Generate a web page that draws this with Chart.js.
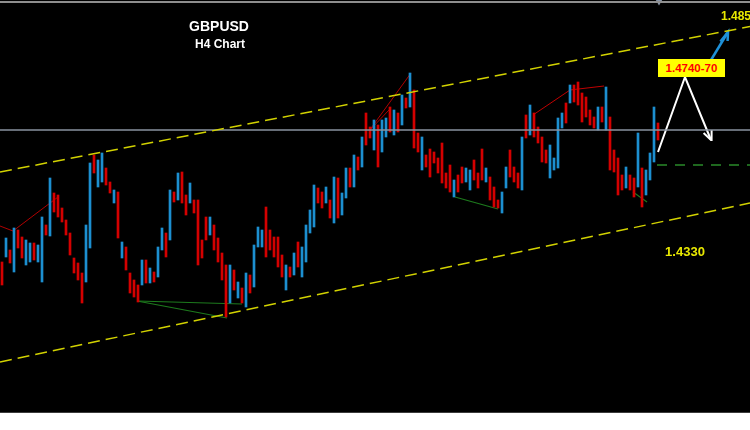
<!DOCTYPE html>
<html>
<head>
<meta charset="utf-8">
<title>GBPUSD H4</title>
<script src="https://cdn.jsdelivr.net/npm/chart.js@4.4.0/dist/chart.umd.min.js"></script>
<style>
  body { margin: 0; background: #fff; }
  #wrap { position: relative; width: 750px; height: 412px; background: #000; border-bottom: 1px solid #3c3c3c; overflow: hidden; }
  #wrap canvas { position: absolute; left: 0; top: 0; }
  #topline { position: absolute; left: 0; top: 1px; width: 750px; height: 2px; background: #8e8e8e; }
  .lbl { position: absolute; font-family: "Liberation Sans", Arial, sans-serif; font-weight: bold; white-space: nowrap; transform: translate(-50%, -50%); }
  #box { position: absolute; left: 658px; top: 59px; width: 67px; height: 18px; background: #ffff00; color: #ff0000;
         font: bold 11.5px "Liberation Sans", Arial, sans-serif; line-height: 18px; text-align: center; }
</style>
</head>
<body>
<div id="wrap">
  <canvas id="fxChart" width="750" height="412"></canvas>
  <div id="topline"></div>
  <div class="lbl" style="left:219px; top:26px; color:#fff; font-size:14px;">GBPUSD</div>
  <div class="lbl" style="left:220px; top:44px; color:#fff; font-size:12px;">H4 Chart</div>
  <div class="lbl" style="left:721px; top:16px; color:#e8e800; font-size:12px; transform: translate(0, -50%);">1.4850</div>
  <div class="lbl" style="left:685px; top:251px; color:#e8e800; font-size:13px;">1.4330</div>
  <div id="box">1.4740-70</div>
</div>
<script>
// H4 candles: high, low, direction (1 = up / blue, 0 = down / red)
var highs = [
  1.4376, 1.4424, 1.4400, 1.4444, 1.4440, 1.4426, 1.4420, 1.4414, 1.4414, 1.4410,
  1.4466, 1.4450, 1.4544, 1.4514, 1.4510, 1.4484, 1.4460, 1.4434, 1.4384, 1.4374,
  1.4354, 1.4450, 1.4574, 1.4590, 1.4580, 1.4594, 1.4564, 1.4536, 1.4520, 1.4516,
  1.4416, 1.4406, 1.4354, 1.4340, 1.4330, 1.4380, 1.4380, 1.4364, 1.4356, 1.4406,
  1.4444, 1.4434, 1.4520, 1.4516, 1.4554, 1.4556, 1.4510, 1.4534, 1.4500, 1.4500,
  1.4420, 1.4466, 1.4466, 1.4450, 1.4424, 1.4394, 1.4370, 1.4370, 1.4360, 1.4336,
  1.4324, 1.4354, 1.4350, 1.4410, 1.4446, 1.4440, 1.4486, 1.4440, 1.4426, 1.4426,
  1.4390, 1.4370, 1.4366, 1.4394, 1.4416, 1.4406, 1.4450, 1.4480, 1.4530, 1.4524,
  1.4516, 1.4526, 1.4500, 1.4546, 1.4544, 1.4514, 1.4564, 1.4564, 1.4590, 1.4586,
  1.4626, 1.4674, 1.4646, 1.4660, 1.4650, 1.4660, 1.4664, 1.4686, 1.4680, 1.4674,
  1.4710, 1.4704, 1.4754, 1.4720, 1.4634, 1.4626, 1.4590, 1.4602, 1.4596, 1.4584,
  1.4614, 1.4554, 1.4570, 1.4540, 1.4550, 1.4566, 1.4564, 1.4560, 1.4580, 1.4554,
  1.4602, 1.4564, 1.4546, 1.4526, 1.4500, 1.4516, 1.4566, 1.4600, 1.4566, 1.4554,
  1.4626, 1.4670, 1.4690, 1.4674, 1.4646, 1.4626, 1.4600, 1.4610, 1.4584, 1.4664,
  1.4674, 1.4694, 1.4730, 1.4730, 1.4736, 1.4714, 1.4706, 1.4680, 1.4666, 1.4686,
  1.4686, 1.4726, 1.4666, 1.4600, 1.4584, 1.4550, 1.4566, 1.4550, 1.4544, 1.4634,
  1.4564, 1.4560, 1.4594, 1.4686, 1.4654
];
var lows = [
  1.4330, 1.4386, 1.4374, 1.4356, 1.4404, 1.4384, 1.4370, 1.4376, 1.4380, 1.4376,
  1.4336, 1.4430, 1.4428, 1.4476, 1.4466, 1.4456, 1.4430, 1.4390, 1.4354, 1.4340,
  1.4294, 1.4336, 1.4404, 1.4554, 1.4526, 1.4536, 1.4530, 1.4514, 1.4494, 1.4424,
  1.4384, 1.4360, 1.4314, 1.4306, 1.4296, 1.4330, 1.4334, 1.4334, 1.4336, 1.4346,
  1.4400, 1.4386, 1.4420, 1.4496, 1.4500, 1.4494, 1.4470, 1.4494, 1.4474, 1.4370,
  1.4384, 1.4420, 1.4430, 1.4400, 1.4376, 1.4340, 1.4266, 1.4294, 1.4320, 1.4304,
  1.4294, 1.4286, 1.4314, 1.4326, 1.4406, 1.4406, 1.4386, 1.4400, 1.4386, 1.4366,
  1.4346, 1.4320, 1.4346, 1.4350, 1.4366, 1.4346, 1.4376, 1.4434, 1.4446, 1.4494,
  1.4484, 1.4494, 1.4464, 1.4454, 1.4464, 1.4470, 1.4504, 1.4526, 1.4526, 1.4560,
  1.4566, 1.4610, 1.4624, 1.4600, 1.4566, 1.4596, 1.4626, 1.4636, 1.4630, 1.4636,
  1.4650, 1.4684, 1.4686, 1.4604, 1.4596, 1.4560, 1.4566, 1.4546, 1.4574, 1.4554,
  1.4534, 1.4524, 1.4516, 1.4506, 1.4516, 1.4534, 1.4536, 1.4520, 1.4540, 1.4524,
  1.4540, 1.4536, 1.4500, 1.4486, 1.4484, 1.4474, 1.4524, 1.4546, 1.4536, 1.4524,
  1.4520, 1.4624, 1.4630, 1.4626, 1.4614, 1.4576, 1.4574, 1.4544, 1.4560, 1.4564,
  1.4644, 1.4654, 1.4694, 1.4696, 1.4690, 1.4656, 1.4666, 1.4650, 1.4644, 1.4640,
  1.4656, 1.4640, 1.4560, 1.4556, 1.4510, 1.4520, 1.4524, 1.4520, 1.4506, 1.4526,
  1.4486, 1.4510, 1.4540, 1.4576, 1.4620
];
var dirs = [
  0, 1, 0, 1, 0, 0, 1, 1, 0, 1,
  1, 0, 1, 0, 0, 0, 0, 0, 0, 0,
  0, 1, 1, 0, 1, 1, 0, 0, 1, 0,
  1, 0, 0, 0, 0, 1, 0, 1, 0, 1,
  1, 0, 1, 0, 1, 0, 0, 1, 0, 0,
  0, 0, 1, 0, 0, 0, 0, 1, 0, 1,
  0, 1, 0, 1, 1, 1, 0, 0, 0, 0,
  0, 1, 0, 1, 0, 1, 1, 1, 1, 0,
  0, 1, 0, 1, 0, 1, 1, 0, 1, 0,
  1, 0, 0, 1, 0, 1, 1, 0, 1, 0,
  1, 0, 1, 0, 0, 1, 0, 0, 0, 0,
  0, 0, 0, 1, 0, 0, 1, 1, 0, 0,
  0, 1, 0, 0, 0, 1, 1, 0, 0, 0,
  1, 0, 1, 0, 0, 0, 0, 1, 1, 1,
  1, 0, 1, 0, 0, 0, 0, 0, 0, 1,
  0, 1, 0, 0, 0, 0, 1, 0, 0, 1,
  0, 1, 1, 1, 0
];

// drawn objects: [candle index, price]
var upperChannel = [[-0.5, 1.4556], [187, 1.4847]];
var lowerChannel = [[-0.5, 1.4176], [187, 1.4494]];
var lastPrice = [[-0.5, 1.4640], [187, 1.4640]];
var supportLevel = [[163.75, 1.4570], [187, 1.4570]];
var redLine1 = [[-0.5, 1.4448], [2.75, 1.4438], [14, 1.4506]];
var redLine2 = [[91.75, 1.4638], [102.25, 1.4754]];
var redLine3 = [[91.75, 1.4638], [96.75, 1.4680]];
var redLine4 = [[132.75, 1.4670], [142, 1.4720], [150.5, 1.4728]];
var greenLine1 = [[33.75, 1.4298], [56.25, 1.4264]];
var greenLine2 = [[33.75, 1.4298], [60, 1.4292]];
var greenLine3 = [[113.25, 1.4506], [124, 1.4482]];
var greenLine4 = [[157.75, 1.4516], [161.25, 1.4496]];
var whitePath = [[164, 1.4596], [170.75, 1.4746], [177.25, 1.4620]];
var whiteHead = [[175.4, 1.4634], [177.25, 1.4620], [177.4, 1.4640]];
var bluePath = [[177.25, 1.4780], [181.5, 1.4836]];
var blueHead = [[179.6, 1.4817], [181.5, 1.4836], [181.4, 1.4818]];
var shiftMark = [[164.25, 1.4897]];

var UP = '#1c8fd0', DOWN = '#d40000';

function pts(arr) {
  return arr.map(function(p) { return { x: p[0], y: p[1] }; });
}

function line(arr, color, width, dash) {
  return {
    type: 'line',
    data: pts(arr),
    borderColor: color,
    borderWidth: width,
    borderDash: dash || [],
    pointRadius: 0,
    fill: false,
    tension: 0
  };
}

var candles = highs.map(function(h, i) { return { x: i, y: [lows[i], h] }; });

var ctx = document.getElementById('fxChart').getContext('2d');
var fxChart = new Chart(ctx, {
  type: 'bar',
  data: {
    datasets: [
      line(upperChannel, '#d2d200', 1.5, [12, 6]),
      line(lowerChannel, '#d2d200', 1.5, [12, 6]),
      line(lastPrice, '#8a93a0', 1.5),
      line(supportLevel, '#2a8a2a', 1.5, [10, 8]),
      {
        type: 'bar',
        data: candles,
        backgroundColor: dirs.map(function(d) { return d ? UP : DOWN; }),
        borderWidth: 0,
        barThickness: 2,
        grouped: false
      },
      line(redLine1, '#b00000', 1),
      line(redLine2, '#b00000', 1),
      line(redLine3, '#b00000', 1),
      line(redLine4, '#c00000', 1),
      line(greenLine1, '#1d7a1d', 1.2),
      line(greenLine2, '#1d7a1d', 1.2),
      line(greenLine3, '#1d7a1d', 1.2),
      line(greenLine4, '#1d7a1d', 1.2),
      line(whitePath, '#ffffff', 2),
      line(whiteHead, '#ffffff', 2),
      line(bluePath, '#1e90d8', 2.5),
      line(blueHead, '#1e90d8', 2.5),
      {
        type: 'scatter',
        data: pts(shiftMark),
        pointStyle: 'triangle',
        rotation: 180,
        pointRadius: 4,
        backgroundColor: '#8a96a8',
        borderWidth: 0,
        clip: false
      }
    ]
  },
  options: {
    responsive: false,
    animation: false,
    layout: { padding: 0, autoPadding: false },
    plugins: { legend: { display: false }, tooltip: { enabled: false } },
    scales: {
      x: { type: 'linear', min: -0.5, max: 187, offset: false, display: false },
      y: { min: 1.4076, max: 1.4900, display: false }
    }
  }
});
</script>
</body>
</html>
